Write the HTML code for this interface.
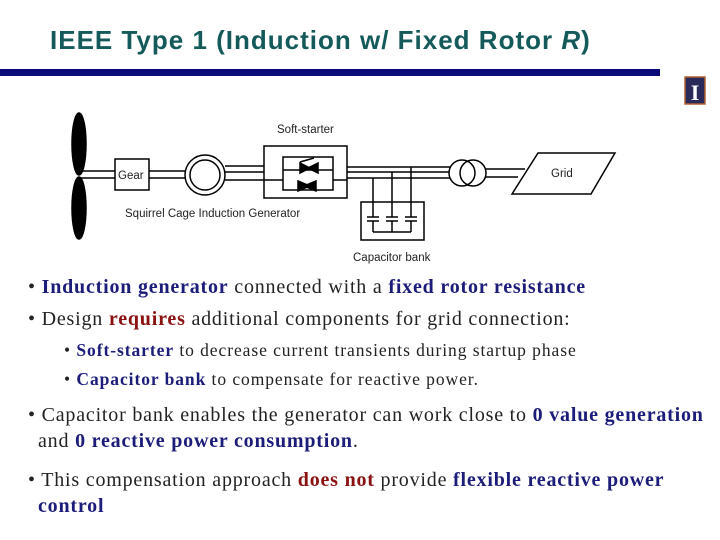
<!DOCTYPE html>
<html><head><style>
body{margin:0;width:720px;height:540px;background:#fff;position:relative;overflow:hidden;font-family:"Liberation Serif",serif}
.t{position:absolute;white-space:nowrap;color:#222}
.m{font-size:20px;letter-spacing:0.8px}
.s{font-size:17.5px;letter-spacing:0.93px}
.b{color:#1c1c7a;font-weight:bold}
.r{color:#8b1010;font-weight:bold}
</style></head><body>
<div class="t" style="left:50px;top:25px;font-family:'Liberation Sans',sans-serif;font-size:26px;letter-spacing:1px;font-weight:bold;color:#155a5a">IEEE Type 1 (Induction w/ Fixed Rotor <i>R</i>)</div>
<div style="position:absolute;left:0;top:69px;width:660px;height:7px;background:#0a0a78"></div>
<svg style="position:absolute;left:0;top:0" width="720" height="540">
<rect x="685" y="77" width="20" height="27" fill="#2a2a5a" stroke="#b06030" stroke-width="1.5"/>
<text x="695" y="100" font-family="Liberation Serif" font-size="22" fill="#fff" text-anchor="middle" font-weight="bold">I</text>
<g stroke="#000" fill="none" stroke-width="1.5">
<ellipse cx="79" cy="144" rx="7" ry="31" fill="#000"/>
<ellipse cx="79" cy="208" rx="7" ry="31" fill="#000"/>
<line x1="80" y1="171" x2="115" y2="171"/><line x1="80" y1="178" x2="115" y2="178"/>
<rect x="115" y="159" width="34" height="31"/>
<line x1="149" y1="171" x2="185" y2="171"/><line x1="149" y1="178" x2="185" y2="178"/>
<circle cx="205" cy="175" r="20"/><circle cx="205" cy="175" r="15"/>
<line x1="225" y1="166" x2="264" y2="166"/><line x1="225" y1="172" x2="264" y2="172"/><line x1="225" y1="180" x2="264" y2="180"/>
<rect x="264" y="146" width="83" height="52"/>
<rect x="283" y="157" width="50" height="33"/>
<line x1="264" y1="180" x2="283" y2="180"/><line x1="333" y1="180" x2="347" y2="180"/>
<line x1="283" y1="170" x2="333" y2="170"/>
<path d="M300 162 L314 158" />
<polygon points="300,163 310,168 300,173" fill="#000"/><polygon points="318,163 308,168 318,173" fill="#000"/>
<polygon points="298,181 310,186 298,191" fill="#000"/><polygon points="316,181 304,186 316,191" fill="#000"/>
<line x1="347" y1="167" x2="455" y2="167"/><line x1="347" y1="172" x2="455" y2="172"/><line x1="347" y1="178" x2="455" y2="178"/>
<line x1="392" y1="172" x2="392" y2="217"/><line x1="411" y1="167" x2="411" y2="217"/><line x1="373" y1="178" x2="373" y2="217"/>
<rect x="361" y="202" width="63" height="38"/>
<line x1="367" y1="217" x2="379" y2="217"/><line x1="367" y1="221" x2="379" y2="221"/>
<line x1="386" y1="217" x2="398" y2="217"/><line x1="386" y1="221" x2="398" y2="221"/>
<line x1="405" y1="217" x2="417" y2="217"/><line x1="405" y1="221" x2="417" y2="221"/>
<line x1="373" y1="221" x2="373" y2="232"/><line x1="392" y1="221" x2="392" y2="232"/><line x1="411" y1="221" x2="411" y2="232"/><line x1="373" y1="232" x2="411" y2="232"/>
<circle cx="462" cy="173" r="13" fill="#fff"/><circle cx="473" cy="173" r="13"/>
<line x1="486" y1="169" x2="525" y2="169"/><line x1="486" y1="177" x2="518" y2="177"/>
<polygon points="538,153 615,153 591,194 512,194" fill="#fff"/>
</g>
<g font-family="Liberation Sans" font-size="11.5" fill="#222">
<text x="277" y="133">Soft-starter</text>
<text x="118" y="179">Gear</text>
<text x="125" y="217">Squirrel Cage Induction Generator</text>
<text x="353" y="261">Capacitor bank</text>
<text x="551" y="177">Grid</text>
</g>
</svg>
<div class="t m" style="left:28px;top:276px">• <span class="b">Induction generator</span> connected with a <span class="b">fixed rotor resistance</span></div>
<div class="t m" style="left:28px;top:308px">• Design <span class="r">requires</span> additional components for grid connection:</div>
<div class="t s" style="left:64px;top:340px">• <span class="b">Soft-starter</span> to decrease current transients during startup phase</div>
<div class="t s" style="left:64px;top:369px">• <span class="b">Capacitor bank</span> to compensate for reactive power.</div>
<div class="t m" style="left:28px;top:404px">• Capacitor bank enables the generator can work close to <span class="b">0 value generation</span></div>
<div class="t m" style="left:38px;top:430px">and <span class="b">0 reactive power consumption</span>.</div>
<div class="t m" style="left:28px;top:469px">• This compensation approach <span class="r">does not</span> provide <span class="b">flexible reactive power</span></div>
<div class="t m" style="left:38px;top:495px"><span class="b">control</span></div>
</body></html>
